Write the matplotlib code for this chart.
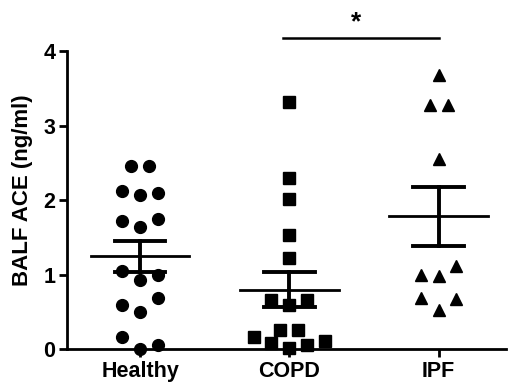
import numpy as np
import matplotlib
matplotlib.use("Agg")
import matplotlib.pyplot as plt

plt.rcParams["font.family"] = ["Liberation Sans", "DejaVu Sans"]
plt.rcParams["font.weight"] = "bold"

# ── Data ────────────────────────────────────────────────────────────────────
groups = ["Healthy", "COPD", "IPF"]

healthy = [2.45, 2.45, 2.12, 2.07, 2.10, 1.72, 1.64, 1.74, 1.05, 0.93, 0.99,
           0.59, 0.50, 0.69, 0.165, 0.0, 0.06]
copd = [3.31, 2.29, 2.02, 1.53, 1.22, 0.66, 0.59, 0.66, 0.165, 0.077, 0.26,
        0.01, 0.255, 0.054, 0.11]
ipf = [3.68, 3.275, 3.275, 2.55, 0.99, 0.98, 1.11, 0.69, 0.52, 0.67]

means = [1.245, 0.795, 1.78]
sems = [0.205, 0.235, 0.40]

# scatter columns (in units of STEP) so points don't overlap
healthy_cols = [-1, 1, -2, 0, 2, -2, 0, 2, -2, 0, 2, -2, 0, 2, -2, 0, 2]
copd_cols = [0, 0, 0, 0, 0, -2, 0, 2, -4, -2, -1, 0, 1, 2, 4]
ipf_cols = [0, -1, 1, 0, -2, 0, 2, -2, 0, 2]

STEP = 0.06
MEAN_HW = 0.33
CAP_HW = 0.17

fig = plt.figure(figsize=(5.09, 3.85), dpi=100)
ax = fig.add_axes([0.1316, 0.0935, 0.862, 0.774])

series = [(healthy, healthy_cols, "o", 8.5),
          (copd, copd_cols, "s", 8.2),
          (ipf, ipf_cols, "^", 9.0)]

for i, (vals, cols, mk, ms) in enumerate(series):
    x = i + np.array(cols) * STEP
    ax.plot(x, vals, linestyle="none", marker=mk, markersize=ms,
            color="black", clip_on=False, zorder=3)
    m, s = means[i], sems[i]
    ax.plot([i - MEAN_HW, i + MEAN_HW], [m, m], color="black", lw=2.0, zorder=4)
    ax.plot([i - CAP_HW, i + CAP_HW], [m + s, m + s], color="black", lw=2.8, zorder=4)
    ax.plot([i - CAP_HW, i + CAP_HW], [m - s, m - s], color="black", lw=2.8, zorder=4)
    ax.plot([i, i], [m - s, m + s], color="black", lw=2.8, zorder=4)

# significance bar COPD vs IPF
ax.plot([0.96, 2.0], [4.18, 4.18], color="black", lw=1.8, clip_on=False)
ax.text(1.45, 4.22, "*", ha="center", va="bottom", fontsize=19, clip_on=False)

ax.set_xlim(-0.49, 2.45)
ax.set_ylim(0, 4)
ax.set_xticks(range(len(groups)))
ax.set_xticklabels(groups, fontsize=15.5, fontweight="bold")
ax.set_yticks([0, 1, 2, 3, 4])
ax.set_yticklabels(["0", "1", "2", "3", "4"], fontsize=15.5, fontweight="bold")
ax.set_ylabel("BALF ACE (ng/ml)", fontsize=16, fontweight="bold")
ax.yaxis.set_label_coords(-0.077, 0.534)

for side in ["top", "right"]:
    ax.spines[side].set_visible(False)
for side in ["left", "bottom"]:
    ax.spines[side].set_linewidth(2.0)
ax.tick_params(axis="both", width=2.0, length=6, direction="out", pad=2.5)

fig.savefig("out.png", dpi=100)
